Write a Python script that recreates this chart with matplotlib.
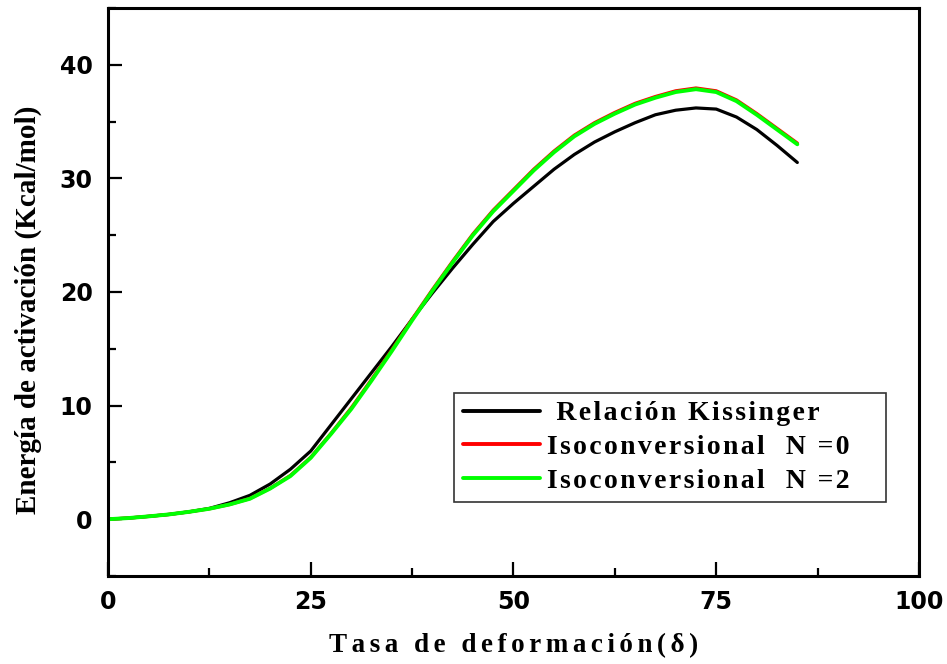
import matplotlib
matplotlib.use("Agg")
import matplotlib.pyplot as plt
from matplotlib.ticker import MultipleLocator

# Deformation rate (delta) and activation energy (Kcal/mol)
delta = [0, 2.5, 5, 7.5, 10, 12.5, 15, 17.5, 20, 22.5, 25, 27.5, 30, 32.5, 35,
         37.5, 40, 42.5, 45, 47.5, 50, 52.5, 55, 57.5, 60, 62.5, 65, 67.5, 70,
         72.5, 75, 77.5, 80, 82.5, 85]

kissinger = [0.0, 0.1, 0.25, 0.42, 0.65, 0.95, 1.45, 2.1, 3.1, 4.4, 6.0, 8.3,
             10.6, 12.9, 15.2, 17.6, 19.9, 22.1, 24.2, 26.2, 27.8, 29.3, 30.8,
             32.1, 33.2, 34.1, 34.9, 35.6, 36.0, 36.2, 36.1, 35.4, 34.3, 32.9,
             31.4]

iso_n0 = [0.0, 0.1, 0.25, 0.42, 0.65, 0.92, 1.3, 1.82, 2.72, 3.85, 5.45, 7.55,
          9.8, 12.3, 14.9, 17.6, 20.2, 22.7, 25.1, 27.2, 29.0, 30.8, 32.4,
          33.8, 34.9, 35.8, 36.6, 37.2, 37.7, 37.95, 37.7, 36.9, 35.7, 34.4,
          33.1]

iso_n2 = [0.0, 0.1, 0.25, 0.42, 0.65, 0.92, 1.3, 1.8, 2.7, 3.8, 5.4, 7.5,
          9.7, 12.2, 14.8, 17.5, 20.1, 22.6, 25.0, 27.1, 28.9, 30.7, 32.3,
          33.7, 34.8, 35.7, 36.5, 37.1, 37.6, 37.85, 37.6, 36.8, 35.6, 34.3,
          33.0]

labels = [" Relación Kissinger", "Isoconversional  N =0", "Isoconversional  N =2"]
x_ticks = [0, 25, 50, 75, 100]
y_ticks = [0, 10, 20, 30, 40]

plt.rcParams["font.family"] = ["DejaVu Sans"]
plt.rcParams["font.weight"] = "bold"
serif = ["Liberation Serif", "DejaVu Serif"]


def spaced(text, gap="\u2006"):
    return gap.join(text)


def legend_text(text):
    # letter-spaced entry, padded on the right to widen the frame
    return spaced(text, "\u200a") + "\u2003"


fig = plt.figure(figsize=(9.47, 6.64), dpi=100)
ax = fig.add_axes([0.114, 0.1325, 0.8564, 0.8555])

ax.plot(delta, kissinger, color="black", lw=2.3, solid_capstyle="round",
        label=legend_text(labels[0]))
ax.plot(delta, iso_n0, color="#ff0000", lw=2.4, solid_capstyle="round",
        label=legend_text(labels[1]))
ax.plot(delta, iso_n2, color="#00ff00", lw=2.8, solid_capstyle="round",
        label=legend_text(labels[2]))

ax.set_xlim(0, 100)
ax.set_ylim(-5, 45)
ax.set_xticks(x_ticks)
ax.set_yticks(y_ticks)
ax.xaxis.set_minor_locator(MultipleLocator(12.5))
ax.yaxis.set_minor_locator(MultipleLocator(5))

for s in ax.spines.values():
    s.set_linewidth(2.2)

ax.tick_params(which="both", direction="in", top=False, right=False, width=1.6)
ax.tick_params(which="major", length=10, labelsize=17)
ax.tick_params(which="minor", length=5.5)
ax.tick_params(axis="x", which="major", pad=10)
ax.tick_params(axis="y", which="major", pad=11)

ax.set_xlabel(spaced("Tasa de deformación(δ)"), family=serif,
              fontweight="bold", fontsize=19.5, labelpad=14)
ax.set_ylabel("Energía de activación (Kcal/mol)", family=serif,
              fontweight="bold", fontsize=21)
ax.yaxis.set_label_coords(-0.081, 0.468)

leg = ax.legend(loc="upper left", bbox_to_anchor=(0.427, 0.323),
                prop={"family": serif, "weight": "bold", "size": 20},
                frameon=True, fancybox=False, edgecolor="black",
                handlelength=2.8, handletextpad=0.25, labelspacing=0.3,
                borderpad=0.3, borderaxespad=0)
leg.get_frame().set_linewidth(1.2)
for ln in leg.get_lines():
    ln.set_linewidth(2.8)

fig.savefig("out.png", dpi=100)
